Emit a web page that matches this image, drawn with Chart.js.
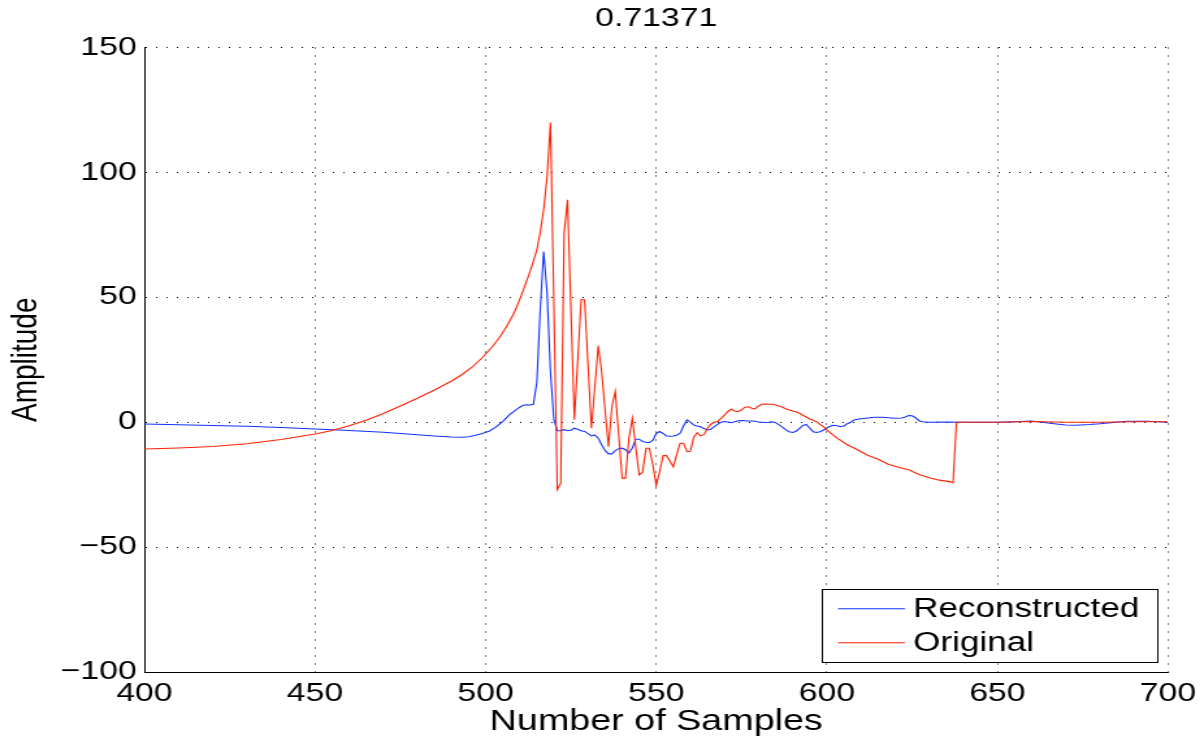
<!DOCTYPE html>
<html>
<head>
<meta charset="utf-8">
<script src="https://cdn.jsdelivr.net/npm/chart.js@4"></script>
<style>
  html, body { margin: 0; padding: 0; background: #fff; overflow: hidden; }
</style>
</head>
<body>
<!-- the figure is laid out on a narrower canvas and widened horizontally -->
<canvas id="plot" width="926" height="741" style="display:block;width:1204px;height:741px"></canvas>
<script>
// ---- data -------------------------------------------------------------
const xTicks = [400, 450, 500, 550, 600, 650, 700];
const yTicks = [-100, -50, 0, 50, 100, 150];

const reconSamples = [
  400, 410, 420, 430, 440, 450, 460, 470, 480, 485, 490, 493, 495, 497, 499,
  501, 503, 505, 507, 509, 510, 511, 512, 513, 514, 515, 516, 517, 518, 519,
  520, 521, 522, 523, 524, 525, 526, 527, 528, 529, 530, 531, 532, 533, 534,
  535, 536, 537, 538, 539, 540, 541, 542, 543, 544, 545, 546, 547, 548, 549,
  550, 551, 552, 553, 554, 555, 556, 557, 558, 559, 560, 561, 562, 563, 564,
  565, 566, 567, 568, 569, 570, 571, 572, 573, 574, 575, 576, 577, 578, 579,
  580, 581, 582, 583, 584, 585, 586, 587, 588, 589, 590, 591, 592, 593, 594,
  595, 596, 597, 598, 599, 600, 601, 602, 603, 604, 605, 606, 607, 608, 609,
  610, 612, 614, 616, 618, 620, 622, 623, 624, 625, 626, 627, 628, 630, 635,
  640, 650, 655, 660, 663, 666, 670, 673, 677, 680, 684, 688, 694, 700
];
const reconValues = [
  -0.7, -1.0, -1.3, -1.6, -2.1, -2.7, -3.3, -4.0, -5.0, -5.5, -5.9, -6.0, -5.8, -5.2, -4.5,
  -3.6, -2.0, 0.2, 3.0, 5.0, 6.0, 6.8, 7.0, 6.9, 7.2, 16, 45, 68.3, 52, 20,
  1, -3.4, -3.4, -3.0, -3.4, -3.2, -2.4, -2.8, -3.4, -3.7, -4.6, -5.5, -5.1, -6.4, -9.0,
  -11.3, -12.7, -12.7, -11.4, -10.6, -10.4, -11.0, -12.3, -10.3, -6.8, -6.8, -7.7, -8.0, -8.1, -7.3,
  -4.5, -3.7, -4.5, -5.5, -5.6, -5.5, -5.2, -4.4, -1.5, 0.9, 0.0, -1.1, -1.5, -1.8, -2.5,
  -3.1, -2.8, -1.8, -0.9, 0.0, 0.3, 0.1, -0.2, 0.2, 0.6, 0.7, 0.6, 0.5, 0.5, 0.4,
  0.1, 0.0, -0.1, 0.0, 0.2, -0.2, -1.1, -2.0, -3.1, -3.8, -4.1, -3.6, -2.5, -1.3, -0.9,
  -2.4, -3.8, -4.1, -3.8, -3.2, -2.3, -1.6, -1.2, -1.4, -1.8, -1.5, -0.6, 0.0, 0.9, 1.2,
  1.4, 1.7, 2.0, 2.0, 1.8, 1.6, 1.7, 2.1, 2.7, 2.6, 1.8, 0.6, 0.2, 0.0, 0.1,
  0.0, 0.0, 0.2, 0.5, 0.0, -0.5, -1.1, -1.2, -0.9, -0.6, -0.1, 0.4, 0.4, 0.0
];

const origSamples = [
  400, 410, 420, 430, 440, 450, 455, 460, 465, 470, 475, 480, 485, 490, 493,
  496, 499, 502, 504, 506, 508, 509, 510, 511, 512, 513, 514, 515, 516, 517, 518, 519,
  520, 521, 522, 523, 524, 525, 526, 527, 528, 529, 530, 531, 532, 533, 534,
  535, 536, 537, 538, 539, 540, 541, 542, 543, 544, 545, 546, 547, 548, 549,
  550, 551, 552, 553, 554, 555, 556, 557, 558, 559, 560, 561, 562, 563, 564,
  565, 566, 567, 568, 569, 570, 571, 572, 573, 574, 575, 576, 577, 578, 579,
  580, 581, 582, 583, 584, 585, 586, 587, 588, 589, 590, 591, 592, 593, 594,
  595, 596, 597, 598, 599, 600, 603, 606, 609, 612, 615, 618, 621, 624, 627,
  630, 633, 636, 637, 638, 650, 660, 670, 680, 690, 700
];
const origValues = [
  -10.7, -10.3, -9.7, -8.6, -6.9, -4.7, -3.3, -1.4, 0.8, 3.5, 6.5, 9.6, 12.9, 16.5, 19.0,
  22.0, 25.8, 30.3, 33.8, 38.0, 42.8, 45.8, 49.2, 52.8, 56.5, 60.3, 64.5, 69.0, 76.0, 85.0, 98.0, 120.0,
  47.0, -27.0, -24.5, 75.7, 89.0, 45.0, 1.0, 25.0, 49.0, 49.0, 23.0, -2.4, 14.0, 30.6, 20.3,
  5.0, -9.8, 6.3, 12.3, -5.0, -22.4, -22.4, -6.4, 1.6, -10.0, -21.1, -20.0, -10.4, -10.4, -17.0,
  -25.3, -19.8, -13.4, -13.4, -15.5, -17.8, -13.0, -8.4, -8.4, -11.8, -11.6, -6.0, -4.2, -5.5, -5.0,
  -2.5, -0.8, 0.0, 0.3, 1.5, 2.8, 4.3, 5.2, 4.5, 4.2, 5.0, 6.0, 6.2, 5.6, 5.3,
  6.5, 7.2, 7.3, 7.2, 7.2, 6.9, 6.5, 6.0, 5.4, 4.9, 4.5, 4.2, 3.6, 2.8, 2.1,
  1.3, 0.8, 0.2, -0.9, -1.8, -3.1, -6.4, -9.0, -11.0, -13.2, -14.8, -16.8, -18.0, -19.0, -20.9,
  -22.2, -23.2, -23.8, -24.2, 0.0, 0.0, 0.3, 0.0, 0.0, 0.2, 0.2
];

const seriesNames = ['Reconstructed', 'Original'];
const titleText = '0.71371';
const xLabel = 'Number of Samples';
const yLabel = 'Amplitude';

// ---- helpers ----------------------------------------------------------
const pairs = (xs, ys) => xs.map((x, i) => ({ x: x, y: ys[i] }));
const minusSign = v => (v < 0 ? '\u2212' + Math.abs(v) : String(v));
const FONT = "'Liberation Sans', Arial, Helvetica, sans-serif";

Chart.defaults.font.family = FONT;
Chart.defaults.color = '#000';

// framed legend in the lower right corner of the plot area
const boxLegend = {
  id: 'boxLegend',
  afterDraw(chart, args, o) {
    const { ctx, chartArea } = chart;
    const x0 = chartArea.right - o.marginRight - o.width;
    const y0 = chartArea.bottom - o.marginBottom - o.height;
    ctx.save();
    ctx.fillStyle = '#fff';
    ctx.fillRect(x0, y0, o.width, o.height);
    ctx.strokeStyle = '#000';
    ctx.lineWidth = 1;
    ctx.strokeRect(Math.round(x0) + 0.5, Math.round(y0) + 0.5, Math.round(o.width), Math.round(o.height));
    ctx.font = o.fontSize + 'px ' + FONT;
    ctx.textBaseline = 'middle';
    ctx.textAlign = 'left';
    chart.data.datasets.forEach((ds, i) => {
      const cy = y0 + o.rowTop + i * o.rowGap;
      ctx.strokeStyle = ds.borderColor;
      ctx.lineWidth = ds.borderWidth;
      ctx.beginPath();
      ctx.moveTo(x0 + o.lineStart, cy);
      ctx.lineTo(x0 + o.lineEnd, cy);
      ctx.stroke();
      ctx.fillStyle = '#000';
      ctx.fillText(ds.label, x0 + o.textStart, cy + 1);
    });
    ctx.restore();
  }
};

new Chart(document.getElementById('plot'), {
  type: 'line',
  data: {
    datasets: [
      {
        label: seriesNames[0],
        data: pairs(reconSamples, reconValues),
        borderColor: '#1030ff',
        borderWidth: 1.1,
        pointRadius: 0,
        tension: 0,
        order: 1
      },
      {
        label: seriesNames[1],
        data: pairs(origSamples, origValues),
        borderColor: '#ff2000',
        borderWidth: 1.1,
        pointRadius: 0,
        tension: 0,
        order: 0
      }
    ]
  },
  options: {
    responsive: false,
    devicePixelRatio: 1,
    animation: false,
    events: [],
    layout: { padding: { left: 0, right: 27.7, top: 0, bottom: 0 } },
    plugins: {
      legend: { display: false },
      tooltip: { enabled: false },
      title: {
        display: true,
        text: titleText,
        fullSize: false,
        color: '#000',
        font: { size: 26, weight: 'normal', family: FONT },
        padding: { top: 3, bottom: 13.3 }
      },
      boxLegend: {
        width: 257.6, height: 73, marginRight: 8.5, marginBottom: 10.3,
        rowTop: 20, rowGap: 34, lineStart: 12.3, lineEnd: 63.8, textStart: 70,
        fontSize: 27
      }
    },
    scales: {
      x: {
        type: 'linear',
        min: xTicks[0],
        max: xTicks[xTicks.length - 1],
        afterBuildTicks: s => { s.ticks = xTicks.map(v => ({ value: v })); },
        afterFit: s => { s.height = 69; },
        ticks: { font: { size: 26 }, color: '#000', padding: 6, maxRotation: 0, autoSkip: false,
                 callback: v => minusSign(v) },
        grid: { color: '#000', lineWidth: 1, drawTicks: false },
        border: { display: true, color: '#000', width: 1, dash: [1, 7] },
        title: { display: true, text: xLabel, color: '#000', font: { size: 29 }, padding: { top: 0, bottom: 2 } }
      },
      y: {
        type: 'linear',
        min: yTicks[0],
        max: yTicks[yTicks.length - 1],
        afterBuildTicks: s => { s.ticks = yTicks.map(v => ({ value: v })); },
        afterFit: s => { s.width = 111.1; },
        ticks: { font: { size: 26 }, color: '#000', padding: 6, callback: v => minusSign(v) },
        grid: { color: '#000', lineWidth: 1, drawTicks: false },
        border: { display: true, color: '#000', width: 1, dash: [1, 7] },
        title: { display: true, text: yLabel, color: '#000', font: { size: 28 }, padding: { top: 3, bottom: 0 } }
      }
    }
  },
  plugins: [boxLegend]
});
</script>
</body>
</html>
